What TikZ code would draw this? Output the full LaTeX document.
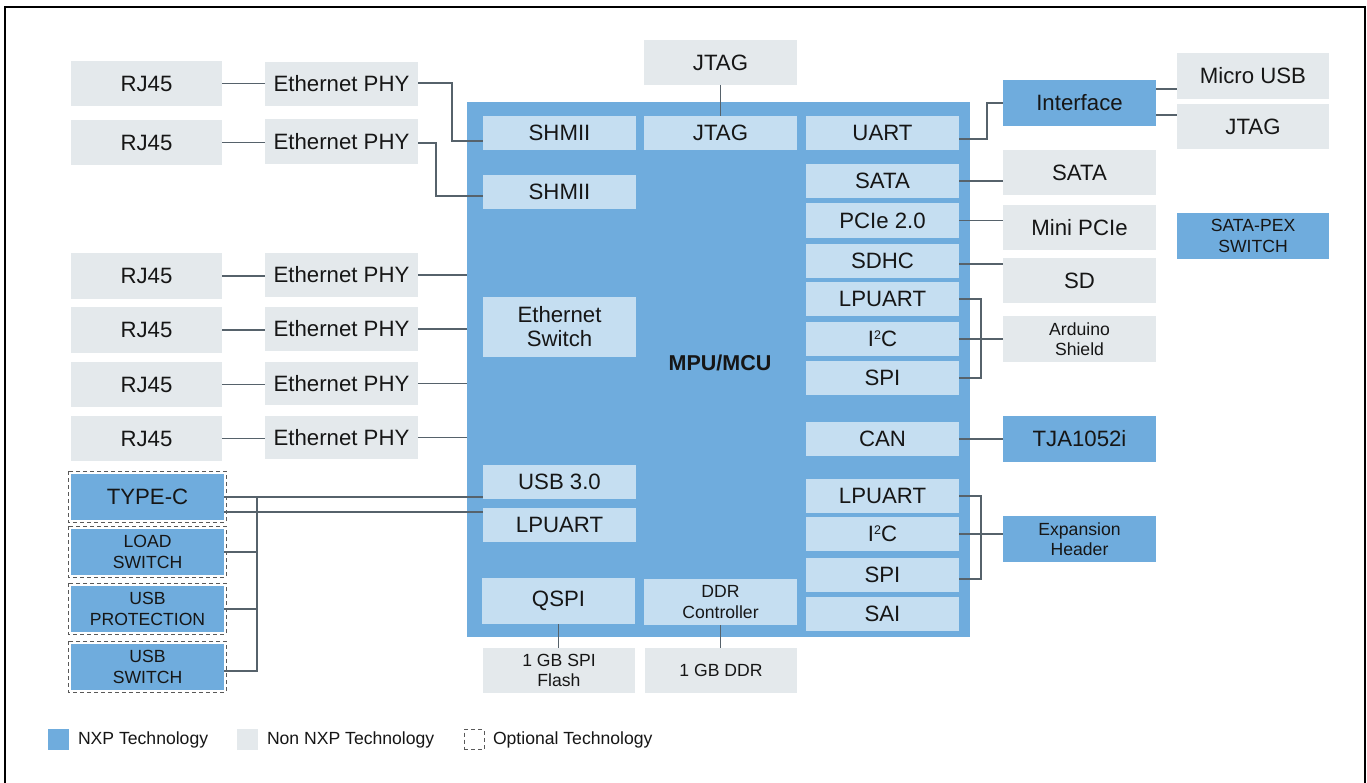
\documentclass[tikz,border=0pt]{standalone}
\usepackage{fontspec}
\setmainfont{Liberation Sans}
\usetikzlibrary{calc}
\definecolor{nxp}{HTML}{6FACDD}
\definecolor{innerblue}{HTML}{C5DEF1}
\definecolor{nongray}{HTML}{E4E9EC}
\definecolor{lnc}{HTML}{56626B}
\definecolor{txt}{HTML}{161616}
\tikzset{
 base/.style={inner sep=0pt, outer sep=0pt, align=center, text=txt},
 nxpbox/.style={base, fill=nxp},
 inbox/.style={base, fill=innerblue},
 nonbox/.style={base, fill=nongray},
 big/.style={font=\fontsize{22.2}{24}\selectfont},
 small/.style={font=\fontsize{17.6}{20.5}\selectfont},
 conn/.style={draw=lnc, line width=1.2pt},
 opt/.style={draw=black!65, dash pattern=on 4pt off 3pt, line width=1pt},
 legtext/.style={base, anchor=west, font=\fontsize{17.6}{20}\selectfont},
}
\newcommand\bx[8]{\node[#6, #7, minimum width={(#4-#2)*1pt}, minimum height={(#5-#3)*1pt}] (#1) at ({(#2+#4)/2},{-(#3+#5)/2}) {#8};}
\newcommand\isq{I\raisebox{0.62ex}{\fontsize{12.5}{12.5}\selectfont 2}C}
\begin{document}
\begin{tikzpicture}[x=1pt,y=1pt]
\useasboundingbox (0,0) rectangle (1367,-783);
\fill[white] (0,0) rectangle (1367,-783);
% frame
\draw[black, line width=2pt] (5,-783) -- (5,-7) -- (1365,-7) -- (1365,-783);

% MCU
\bx{mcu}{467}{102}{970}{637}{nxpbox}{big}{}
\node[base, font=\fontsize{21.5}{24}\selectfont\bfseries] (mcutxt) at (720,-363) {MPU/MCU};

% left RJ45 / PHY
\bx{r1}{71}{61}{222}{106}{nonbox}{big}{RJ45}
\bx{r2}{71}{120}{222}{165}{nonbox}{big}{RJ45}
\bx{r3}{71}{253}{222}{299}{nonbox}{big}{RJ45}
\bx{r4}{71}{307}{222}{353}{nonbox}{big}{RJ45}
\bx{r5}{71}{362}{222}{407}{nonbox}{big}{RJ45}
\bx{r6}{71}{416}{222}{461}{nonbox}{big}{RJ45}
\bx{p1}{265}{62}{418}{106}{nonbox}{big}{Ethernet PHY}
\bx{p2}{265}{119}{418}{164}{nonbox}{big}{Ethernet PHY}
\bx{p3}{265}{253}{418}{297}{nonbox}{big}{Ethernet PHY}
\bx{p4}{265}{307}{418}{351}{nonbox}{big}{Ethernet PHY}
\bx{p5}{265}{362}{418}{405}{nonbox}{big}{Ethernet PHY}
\bx{p6}{265}{416}{418}{459}{nonbox}{big}{Ethernet PHY}

% inner blocks
\bx{shm1}{483}{116}{636}{150}{inbox}{big}{SHMII}
\bx{shm2}{483}{175}{636}{209}{inbox}{big}{SHMII}
\bx{jtagi}{644}{116}{797}{150}{inbox}{big}{JTAG}
\bx{uart}{806}{116}{959}{150}{inbox}{big}{UART}
\bx{sata}{806}{164}{959}{198}{inbox}{big}{SATA}
\bx{pcie}{806}{203}{959}{238}{inbox}{big}{PCIe 2.0}
\bx{sdhc}{806}{244}{959}{278}{inbox}{big}{SDHC}
\bx{lpu1}{806}{282}{959}{316}{inbox}{big}{LPUART}
\bx{i2c1}{806}{322}{959}{356}{inbox}{big}{\isq}
\bx{spi1}{806}{361}{959}{395}{inbox}{big}{SPI}
\bx{can}{806}{422}{959}{456}{inbox}{big}{CAN}
\bx{lpu2}{806}{479}{959}{513}{inbox}{big}{LPUART}
\bx{i2c2}{806}{517}{959}{551}{inbox}{big}{\isq}
\bx{spi2}{806}{558}{959}{592}{inbox}{big}{SPI}
\bx{sai}{806}{597}{959}{631}{inbox}{big}{SAI}
\bx{esw}{483}{297}{636}{357}{inbox}{big}{Ethernet\\Switch}
\bx{usb3}{483}{465}{636}{499}{inbox}{big}{USB 3.0}
\bx{lpl}{483}{508}{636}{542}{inbox}{big}{LPUART}
\bx{qspi}{482}{578}{635}{624}{inbox}{big}{QSPI}
\bx{ddrc}{644}{579}{797}{625}{inbox}{small}{DDR\\Controller}

% outside blocks
\bx{jtago}{644}{40}{797}{85}{nonbox}{big}{JTAG}
\bx{flash}{483}{648}{635}{693}{nonbox}{small}{1 GB SPI\\Flash}
\bx{ddr}{645}{648}{797}{693}{nonbox}{small}{1 GB DDR}
\bx{iface}{1003}{80}{1156}{126}{nxpbox}{big}{Interface}
\bx{musb}{1177}{53}{1329}{99}{nonbox}{big}{Micro USB}
\bx{jtagr}{1177}{104}{1329}{149}{nonbox}{big}{JTAG}
\bx{satao}{1003}{150}{1156}{195}{nonbox}{big}{SATA}
\bx{mpcie}{1003}{205}{1156}{250}{nonbox}{big}{Mini PCIe}
\bx{pex}{1177}{213}{1329}{259}{nxpbox}{small}{SATA-PEX\\SWITCH}
\bx{sd}{1003}{258}{1156}{303}{nonbox}{big}{SD}
\bx{ard}{1003}{316}{1156}{362}{nonbox}{small}{Arduino\\Shield}
\bx{tja}{1003}{416}{1156}{462}{nxpbox}{big}{TJA1052i}
\bx{exp}{1003}{516}{1156}{562}{nxpbox}{small}{Expansion\\Header}

% left bottom optional blocks
\bx{typec}{71}{474}{224}{520}{nxpbox}{big}{TYPE-C}
\bx{loadsw}{71}{529}{224}{575}{nxpbox}{small}{LOAD\\SWITCH}
\bx{usbp}{71}{586}{224}{632}{nxpbox}{small}{USB\\PROTECTION}
\bx{usbsw}{71}{644}{224}{690}{nxpbox}{small}{USB\\SWITCH}
\foreach \n in {typec,loadsw,usbp,usbsw}{
  \draw[opt] ([shift={(-3,3)}]\n.north west) rectangle ([shift={(2,-2)}]\n.south east);
}

% connectors left
\foreach \i in {1,...,6}{ \draw[conn] (r\i.east) -- (r\i.east -| p\i.west); }
\draw[conn] ([yshift=1]p1.east) -- ++(34,0) |- ([yshift=-8]shm1.west);
\draw[conn] ([yshift=-1.5]p2.east) -- ++(18,0) |- ([yshift=-4]shm2.west);
\foreach \i in {3,...,6}{ \draw[conn] (p\i.east) -- (p\i.east -| mcu.west); }
\draw[conn] (jtago.south) -- (jtagi.north);
\draw[conn] (qspi.south) -- (qspi.south |- flash.north);
\draw[conn] (ddrc.south) -- (ddrc.south |- ddr.north);

% connectors right
\draw[conn] ([yshift=-6]uart.east) -- ++(28,0) |- (iface.west);
\draw[conn] ([yshift=14]iface.east) -- ([yshift=14]iface.east -| musb.west);
\draw[conn] ([yshift=-12]iface.east) -- ([yshift=-12]iface.east -| jtagr.west);
\draw[conn] (sata.east) -- (sata.east -| satao.west);
\draw[conn] (pcie.east) -- (pcie.east -| mpcie.west);
\draw[conn] ([yshift=-3]sdhc.east) -- ([yshift=-3]sdhc.east -| sd.west);
\draw[conn] (lpu1.east) -- ++(22,0) |- (spi1.east);
\draw[conn] (i2c1.east) -- (i2c1.east -| ard.west);
\draw[conn] (can.east) -- (can.east -| tja.west);
\draw[conn] (lpu2.east) -- ++(22,0) |- ([yshift=-4]spi2.east);
\draw[conn] (i2c2.east) -- (i2c2.east -| exp.west);

% USB type-C connectors
\coordinate (bt) at (257,-497);
\draw[conn] (typec.east) -- (typec.east -| usb3.west);
\draw[conn] ([yshift=-15]typec.east) -- ([yshift=-15]typec.east -| lpl.west);
\draw[conn] ([yshift=-4]usbsw.east) -| (bt);
\draw[conn] (loadsw.east) -- (loadsw.east -| bt);
\draw[conn] (usbp.east) -- (usbp.east -| bt);

% legend
\node[base, fill=nxp, minimum width=21pt, minimum height=21pt] (lg1) at (58.5,-739.5) {};
\node[legtext] (lg1t) at (78,-739.5) {NXP Technology};
\node[base, fill=nongray, minimum width=21pt, minimum height=21pt] (lg2) at (247.5,-739.5) {};
\node[legtext] (lg2t) at (267,-739.5) {Non NXP Technology};
\node[base, opt, minimum width=20pt, minimum height=20pt] (lg3) at (474,-739.5) {};
\node[legtext] (lg3t) at (493,-739.5) {Optional Technology};
\end{tikzpicture}
\end{document}
